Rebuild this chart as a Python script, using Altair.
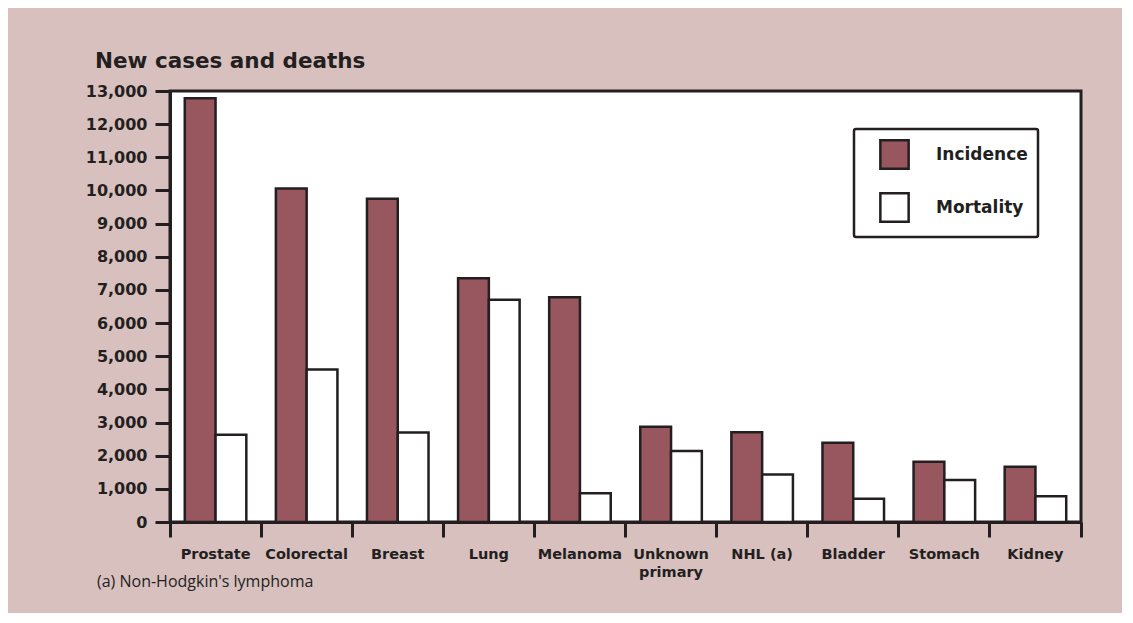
import altair as alt
import pandas as pd

categories = ["Prostate", "Colorectal", "Breast", "Lung", "Melanoma",
              "Unknown primary", "NHL (a)", "Bladder", "Stomach", "Kidney"]
incidence = [12780, 10060, 9750, 7350, 6780, 2870, 2710, 2390, 1820, 1670]
mortality = [2630, 4600, 2700, 6700, 870, 2140, 1430, 700, 1270, 780]
measures = ["Incidence", "Mortality"]
y_ticks = list(range(0, 13001, 1000))

title_text = "New cases and deaths"
footnote_text = "(a) Non-Hodgkin's lymphoma"

INK = "#231f20"
BOLD_FONT = "DejaVu Sans"
NOTE_FONT = "Open Sans"

rows = []
for c, i, m in zip(categories, incidence, mortality):
    rows.append({"cancer": c, "measure": "Incidence", "value": i})
    rows.append({"cancer": c, "measure": "Mortality", "value": m})
df = pd.DataFrame(rows)

bars = alt.Chart(df).mark_bar(stroke=INK, strokeWidth=2.5, opacity=1).encode(
    x=alt.X("cancer:N", sort=categories,
            scale=alt.Scale(paddingInner=0, paddingOuter=0),
            axis=alt.Axis(title=None, labelAngle=0, bandPosition=1, tickExtra=True,
                          tickSize=15, tickWidth=3, tickColor=INK,
                          domainWidth=3, domainColor=INK,
                          labelPadding=10, labelFontSize=14.5, labelFontWeight="bold",
                          labelFont=BOLD_FONT, labelColor=INK, labelLineHeight=18,
                          labelExpr="datum.value == 'Unknown primary' ? ['Unknown', 'primary'] : datum.value")),
    xOffset=alt.XOffset("measure:N", sort=measures,
                        scale=alt.Scale(paddingOuter=0.48, paddingInner=0)),
    y=alt.Y("value:Q", scale=alt.Scale(domain=[0, 13000], nice=False),
            axis=alt.Axis(title=None, values=y_ticks, format=",.0f", grid=False,
                          tickSize=15, tickWidth=3, tickColor=INK,
                          domainWidth=3, domainColor=INK,
                          labelPadding=8, labelFontSize=16, labelFontWeight="bold",
                          labelFont=BOLD_FONT, labelColor=INK)),
    color=alt.Color("measure:N", sort=measures,
                    scale=alt.Scale(domain=measures, range=["#98565f", "#ffffff"]),
                    legend=alt.Legend(title=None, orient="none", legendX=684, legendY=38,
                                      direction="vertical",
                                      fillColor="white", strokeColor=INK,
                                      padding=10, symbolOffset=15,
                                      symbolType="square", symbolSize=800,
                                      symbolStrokeColor=INK, symbolStrokeWidth=2.5,
                                      symbolOpacity=1,
                                      rowPadding=14, labelOffset=26,
                                      labelFontSize=17, labelFontWeight="bold",
                                      labelFont=BOLD_FONT, labelColor=INK,
                                      labelExpr="datum.label + '\u00a0\u00a0\u00a0\u00a0\u00a0\u00a0'")),
)

title_df = pd.DataFrame({"t": [title_text]})
title = alt.Chart(title_df).mark_text(
    align="left", baseline="alphabetic", fontSize=21.5, fontWeight="bold",
    font=BOLD_FONT, color=INK
).encode(x=alt.value(-75), y=alt.value(-23), text="t:N")

foot_df = pd.DataFrame({"t": [footnote_text]})
foot = alt.Chart(foot_df).mark_text(
    align="left", baseline="alphabetic", fontSize=16, fontWeight="normal",
    font=NOTE_FONT, color=INK
).encode(x=alt.value(-73), y=alt.value(496), text="t:N")

chart = alt.layer(bars, title, foot).properties(
    width=911, height=431,
    background="#d8c0bf",
    padding={"left": 162, "top": 83, "right": 41, "bottom": 91},
    autosize=alt.AutoSizeParams(type="none"),
).configure_view(
    fill="white", stroke=INK, strokeWidth=3
).configure_legend(
    strokeWidth=2.5, cornerRadius=2
)

chart.save("out.html", embed_options={"renderer": "svg", "actions": False})
